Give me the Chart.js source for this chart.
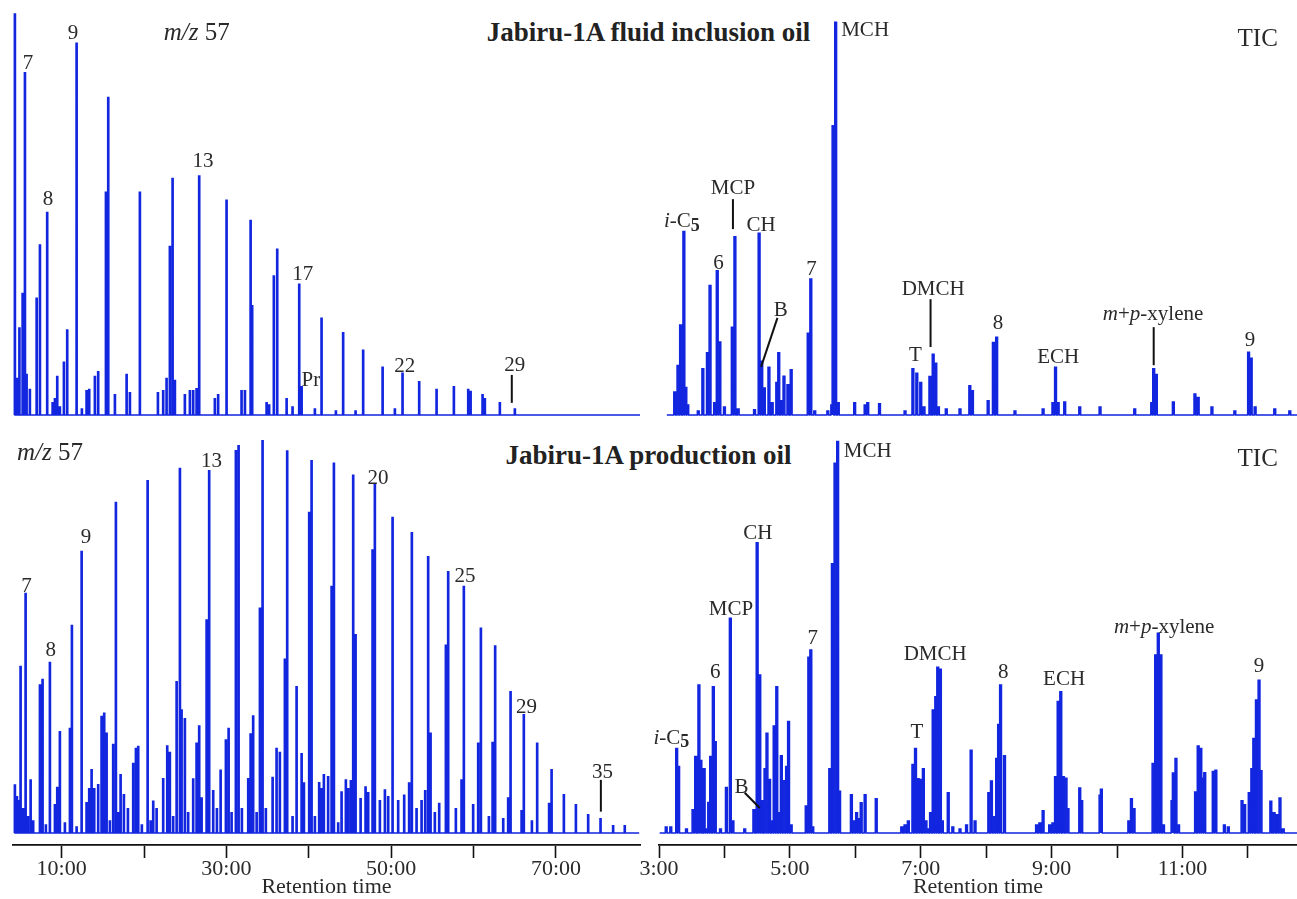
<!DOCTYPE html>
<html>
<head>
<meta charset="utf-8">
<script src="https://cdn.jsdelivr.net/npm/chart.js@4"></script>
<style>
  html, body { margin: 0; padding: 0; background: #fff; width: 1297px; height: 899px; overflow: hidden; }
  canvas { position: absolute; }
  .title { position: absolute; left: 0; width: 1297px; text-align: center; font: bold 27px "Liberation Serif", serif; line-height: 30px; color: #222; }
</style>
</head>
<body>
<div class="title" style="top:17px">Jabiru-1A fluid inclusion oil</div>
<div class="title" style="top:440px">Jabiru-1A production oil</div>
<canvas id="tl" width="687" height="425" style="left:-17px;top:0"></canvas>
<canvas id="tr" width="698" height="425" style="left:629px;top:0"></canvas>
<canvas id="bl" width="687" height="479" style="left:-17px;top:420px"></canvas>
<canvas id="br" width="698" height="479" style="left:629px;top:420px"></canvas>
<script>
// retention time (min) and relative intensity of each peak
const tlTimes = [4.33, 4.58, 4.88, 5.27, 5.55, 5.75, 6.15, 6.97, 7.37, 8.25, 8.91, 9.19, 9.47, 9.79, 10.28, 10.68, 11.82, 12.46, 13.03, 13.35, 14.04, 14.44, 15.38, 15.66, 16.47, 17.89, 18.29, 19.5, 21.69, 22.33, 22.74, 23.14, 23.47, 23.75, 24.96, 25.57, 25.97, 26.38, 26.7, 28.6, 29.0, 30.02, 31.84, 32.25, 32.94, 33.13, 34.88, 35.19, 35.76, 36.17, 37.31, 38.03, 38.84, 39.13, 40.74, 41.55, 43.29, 44.17, 45.68, 46.6, 48.96, 50.45, 51.38, 53.4, 55.51, 57.61, 59.35, 59.64, 61.09, 61.37, 63.19, 65.01];
const tlHeights = [99, 9, 21.5, 30, 84.5, 10, 6.3, 28.8, 42, 50, 3, 4, 9.5, 2, 13, 21, 91.8, 1.5, 6, 6.3, 9.5, 10.7, 55, 78.4, 5, 10, 5.5, 55, 5.5, 6, 9, 41.6, 58.4, 8.5, 5, 6, 6, 6.5, 59, 4, 5, 53, 6, 6, 48, 27, 3, 2.5, 34.3, 40.9, 4, 2, 32.3, 7, 1.5, 23.9, 1, 20.3, 1, 16, 11.8, 1.5, 10.3, 8.2, 6.3, 7, 6.3, 5.8, 5, 4, 3, 1.5];

const trTimes = [3.24, 3.29, 3.33, 3.38, 3.41, 3.44, 3.6, 3.67, 3.74, 3.78, 3.85, 3.89, 3.93, 4.0, 4.12, 4.16, 4.21, 4.46, 4.53, 4.57, 4.61, 4.68, 4.73, 4.8, 4.83, 4.87, 4.91, 4.97, 5.02, 5.28, 5.32, 5.38, 5.58, 5.64, 5.66, 5.7, 5.74, 5.99, 6.15, 6.19, 6.37, 6.76, 6.88, 6.94, 7.0, 7.05, 7.14, 7.19, 7.23, 7.27, 7.39, 7.6, 7.75, 7.79, 8.03, 8.11, 8.16, 8.44, 8.87, 9.02, 9.06, 9.1, 9.2, 9.43, 9.74, 10.27, 10.53, 10.56, 10.6, 10.86, 11.19, 11.24, 11.45, 11.8, 12.01, 12.05, 12.11, 12.41, 12.64];
const trHeights = [5.7, 12.2, 22.2, 45.3, 6.8, 2.5, 1, 11.4, 15.4, 32, 3, 35.6, 18, 2, 21.7, 44, 1.5, 1.3, 44.9, 13.3, 6.7, 11.8, 3, 8, 15.4, 3.5, 9.6, 7.5, 11.2, 20.2, 33.6, 1, 1, 2.5, 71.4, 97, 3, 3, 2.5, 3, 2.8, 1, 11.4, 10.3, 8, 2, 9.5, 15, 12.8, 2, 1.5, 1.5, 7.2, 6, 3.5, 17.9, 19.2, 1, 1.5, 3, 11.8, 3, 3.2, 2, 2, 1.5, 3, 11.4, 10, 3.2, 5.2, 4.3, 2, 1, 15.5, 14, 2, 1.5, 1];

const blTimes = [4.33, 4.58, 4.82, 5.02, 5.34, 5.63, 5.91, 6.24, 6.55, 7.37, 7.69, 8.09, 8.58, 9.19, 9.47, 9.79, 10.4, 11.01, 11.25, 11.82, 12.43, 13.03, 13.35, 13.64, 13.96, 14.44, 14.85, 15.17, 15.46, 15.86, 16.26, 16.59, 16.87, 17.16, 17.56, 18.05, 18.69, 19.02, 19.3, 19.74, 20.44, 20.8, 21.12, 21.53, 22.33, 22.82, 23.14, 23.54, 23.96, 24.36, 24.56, 24.96, 25.36, 25.97, 26.38, 26.7, 26.99, 27.6, 27.91, 28.4, 28.85, 29.3, 29.94, 30.27, 30.63, 31.15, 31.48, 31.88, 32.65, 32.94, 33.25, 33.67, 34.07, 34.39, 34.79, 35.61, 36.09, 36.49, 37.1, 37.38, 38.03, 38.52, 39.13, 39.41, 40.05, 40.34, 40.74, 41.26, 41.55, 41.83, 42.35, 42.77, 43.05, 43.57, 43.98, 44.5, 44.78, 45.11, 45.39, 45.68, 46.29, 46.89, 47.21, 47.74, 48.02, 48.63, 49.24, 49.64, 50.17, 50.85, 51.58, 52.18, 52.51, 53.08, 53.69, 54.13, 54.49, 54.78, 55.3, 55.83, 56.64, 56.92, 57.85, 58.54, 58.82, 59.95, 60.56, 60.89, 61.86, 62.31, 62.62, 63.6, 64.2, 64.49, 65.83, 66.1, 67.08, 67.72, 69.17, 69.47, 70.96, 72.42, 73.91, 75.41, 76.94, 78.35];
const blHeights = [11.9, 9, 8, 41.4, 6, 59.6, 4, 13.2, 3, 36.8, 38.2, 2, 42.4, 7, 11.3, 25.2, 2.5, 26, 51.6, 1.5, 70, 7.5, 11, 15.7, 11, 12, 29, 29.8, 24.8, 3, 22, 82.2, 5, 14.5, 9.5, 6, 17.3, 21, 21.5, 2, 87.6, 3, 7.9, 6, 13.5, 21.6, 20, 4, 37.6, 90.7, 30.6, 28.4, 5, 13.4, 22.3, 26.6, 8.7, 53, 90.1, 10.5, 6, 15.6, 23.1, 26, 5, 95.1, 96.3, 6, 13.5, 24.6, 29.1, 5, 55.9, 97.6, 6, 13.8, 21, 20, 43.2, 95, 4, 36.4, 19.7, 12.4, 79.7, 92.6, 4, 12.5, 11, 14.5, 14, 61.3, 92, 2.5, 10.2, 13.2, 11, 13, 89, 49.3, 8.5, 11.4, 10, 70.4, 86.6, 8, 10.7, 9, 78.5, 8, 9.4, 12.4, 74.7, 6, 8, 10.5, 68.7, 24.8, 5, 7.3, 46.7, 65, 6, 13.2, 61.3, 7, 22.3, 50.9, 4, 22.5, 46.5, 3.5, 8.7, 35.1, 5.5, 29.4, 3, 22.3, 7.3, 15.7, 9.5, 7, 4.5, 3.5, 1.8, 1.8];

const brTimes = [3.11, 3.18, 3.27, 3.3, 3.42, 3.52, 3.56, 3.61, 3.64, 3.69, 3.72, 3.76, 3.79, 3.83, 3.86, 3.94, 4.03, 4.09, 4.13, 4.31, 4.45, 4.5, 4.54, 4.57, 4.62, 4.65, 4.69, 4.73, 4.76, 4.8, 4.84, 4.87, 4.91, 4.95, 4.98, 5.02, 5.25, 5.29, 5.32, 5.35, 5.61, 5.65, 5.69, 5.73, 5.76, 5.94, 5.98, 6.02, 6.05, 6.09, 6.15, 6.32, 6.71, 6.76, 6.81, 6.88, 6.92, 6.96, 7.0, 7.04, 7.08, 7.11, 7.15, 7.19, 7.23, 7.26, 7.3, 7.33, 7.42, 7.49, 7.6, 7.7, 7.77, 7.83, 8.04, 8.08, 8.12, 8.16, 8.19, 8.22, 8.28, 8.77, 8.82, 8.87, 8.97, 9.02, 9.06, 9.1, 9.14, 9.18, 9.22, 9.25, 9.43, 9.46, 9.74, 9.76, 10.18, 10.22, 10.26, 10.55, 10.59, 10.63, 10.67, 10.71, 10.84, 10.86, 10.9, 10.94, 11.2, 11.24, 11.28, 11.31, 11.34, 11.47, 11.51, 11.64, 11.7, 11.91, 11.95, 12.02, 12.06, 12.09, 12.13, 12.17, 12.2, 12.35, 12.4, 12.45, 12.49, 12.54];
const brHeights = [1.5, 1.5, 21, 16.5, 1, 5.8, 19, 36.8, 18, 16, 1, 7.6, 19, 36.4, 22.7, 1, 11.3, 53.4, 3, 1, 5.8, 72.2, 39.3, 8, 16, 24.8, 13.3, 3, 26.6, 36.4, 5, 19.2, 13, 16.5, 27.7, 2, 6.7, 43.7, 45.5, 1.5, 16, 67, 92, 97.4, 10.4, 9.5, 3, 5, 3.5, 7.5, 9.5, 8.5, 1.5, 2, 3, 17, 21, 13.5, 13.3, 16, 3, 1, 5, 30.6, 33.9, 41.2, 40.7, 3, 10, 1.5, 1, 2, 20.6, 3, 10, 12.9, 4, 18.5, 27, 36.8, 19.2, 2, 2.5, 5.5, 2, 2.5, 14, 32.7, 35.1, 14, 13.6, 6, 11.2, 8, 9.4, 10.9, 3, 8.5, 6, 17.3, 44.3, 49.7, 44.3, 2, 8, 14.9, 18.5, 2, 10.2, 21.6, 21, 13.6, 15, 15.3, 15.6, 2, 1.5, 8, 7, 10, 16, 23.5, 33.1, 38, 15.5, 7.9, 5, 4.5, 8.7, 1];

// axis ticks (min) and their labels
const leftTicks = [10, 20, 30, 40, 50, 60, 70];
const leftTickLabels = ["10:00", "", "30:00", "", "50:00", "", "70:00"];
const rightTicks = [3, 4, 5, 6, 7, 8, 9, 10, 11, 12];
const rightTickLabels = ["3:00", "", "5:00", "", "7:00", "", "9:00", "", "11:00", ""];

// peak labels: text (*italic*, _subscript_), time, intensity level
const tlLabels = ["7", "9", "8", "13", "17", "Pr", "22", "29"];
const tlLabelTimes = [5.91, 11.37, 8.34, 27.15, 39.28, 40.26, 51.66, 65.0];
const tlLabelLevels = [86.9, 94.3, 53.1, 62.7, 34.6, 8.6, 11.9, 12.3];
const trLabels = ["*i*-C_5_", "MCP", "CH", "6", "B", "7", "MCH", "T", "DMCH", "8", "ECH", "*m*+*p*-xylene", "9"];
const trLabelTimes = [3.35, 4.13, 4.56, 3.91, 4.86, 5.33, 6.15, 6.92, 7.19, 8.18, 9.10, 10.55, 12.03];
const trLabelLevels = [47.7, 56, 46.7, 37.5, 25.9, 36, 95, 14.6, 30.9, 22.7, 14.1, 24.7, 18.5];
const blLabels = ["7", "8", "9", "13", "20", "25", "29", "35"];
const blLabelTimes = [5.75, 8.67, 12.95, 28.2, 48.39, 58.95, 66.43, 75.66];
const blLabelLevels = [61.3, 45.5, 73.4, 92.4, 88.3, 63.7, 31.1, 15];
const brLabels = ["*i*-C_5_", "MCP", "6", "CH", "B", "7", "MCH", "T", "DMCH", "8", "ECH", "*m*+*p*-xylene", "9"];
const brLabelTimes = [3.19, 4.10, 3.86, 4.51, 4.26, 5.35, 6.19, 6.94, 7.22, 8.26, 9.19, 10.72, 12.17];
const brLabelLevels = [23.6, 55.7, 39.8, 74.6, 11.4, 48.5, 94.8, 24.9, 44.3, 39.8, 38.1, 51.2, 41.3];

// leader lines [t1, level1, t2, level2]
const tlLeaders = [[64.64, 9.9, 64.64, 3]];
const trLeaders = [[4.13, 53.3, 4.13, 45.9], [4.81, 24, 4.56, 11.9], [7.15, 28.6, 7.15, 16.8], [10.56, 21.7, 10.56, 12.3]];
const blLeaders = [[75.45, 13.2, 75.45, 5.3]];
const brLeaders = [[4.31, 10, 4.54, 6.2]];

const BLUE = "#1226e0";
const INK = "#2a2a2a";
const SERIF = "'Liberation Serif', 'Times New Roman', serif";

// step trace: each peak is a narrow block, overlapping blocks keep the taller one
function trace(times, heights, hw, start, end) {
  const edges = [start, end];
  times.forEach(t => edges.push(t - hw, t + hw));
  const xs = [...new Set(edges)].sort((a, b) => a - b);
  return xs.map(x => {
    let h = 0;
    times.forEach((t, i) => {
      if (x >= t - hw - 1e-9 && x < t + hw - 1e-9) h = Math.max(h, heights[i]);
    });
    return { x, y: h };
  });
}

function drawRich(ctx, str, x, y, size) {
  const parts = [];
  let mode = "n", buf = "";
  for (const ch of str) {
    if (ch === "*" || ch === "_") {
      if (buf) parts.push([mode, buf]);
      buf = "";
      const m = ch === "*" ? "i" : "s";
      mode = mode === m ? "n" : m;
    } else buf += ch;
  }
  if (buf) parts.push([mode, buf]);
  const fontOf = m => m === "i" ? `italic ${size}px ${SERIF}` : m === "s" ? `bold ${Math.round(size * 0.85)}px ${SERIF}` : `${size}px ${SERIF}`;
  let w = 0;
  parts.forEach(p => { ctx.font = fontOf(p[0]); w += ctx.measureText(p[1]).width; });
  let cx = x - w / 2;
  ctx.textAlign = "left";
  ctx.textBaseline = "middle";
  parts.forEach(p => {
    ctx.font = fontOf(p[0]);
    ctx.fillText(p[1], cx, p[0] === "s" ? y + size * 0.22 : y);
    cx += ctx.measureText(p[1]).width;
  });
}

function labelsFor(texts, times, levels, leaders, tag, tagAt) {
  return {
    id: "peakLabels",
    afterDatasetsDraw(chart) {
      const { ctx, scales: { x, y } } = chart;
      ctx.save();
      ctx.strokeStyle = "#111";
      ctx.lineWidth = 2;
      leaders.forEach(([t1, a, t2, b]) => {
        ctx.beginPath();
        ctx.moveTo(x.getPixelForValue(t1), y.getPixelForValue(a));
        ctx.lineTo(x.getPixelForValue(t2), y.getPixelForValue(b));
        ctx.stroke();
      });
      ctx.fillStyle = INK;
      texts.forEach((s, i) => drawRich(ctx, s, x.getPixelForValue(times[i]), y.getPixelForValue(levels[i]), 21));
      drawRich(ctx, tag, x.getPixelForValue(tagAt[0]), y.getPixelForValue(tagAt[1]), 25);
      ctx.restore();
    }
  };
}

function panel(id, o) {
  const xScale = { type: "linear", min: o.min, max: o.max, display: false };
  if (o.ticks) {
    Object.assign(xScale, {
      display: true,
      afterBuildTicks: s => { s.ticks = o.ticks.map(v => ({ value: v })); },
      afterFit: s => { s.height = 54; },
      ticks: {
        autoSkip: false, maxRotation: 0, padding: 0, color: INK,
        font: { family: SERIF, size: 22, lineHeight: 1 },
        callback: v => o.tickLabels[o.ticks.indexOf(v)]
      },
      grid: { drawOnChartArea: false, drawTicks: true, tickLength: 13, tickWidth: 1.6, tickColor: "#111" },
      border: { display: true, color: "#111", width: 1.8 },
      title: { display: true, text: "Retention time", color: INK, font: { family: SERIF, size: 22, lineHeight: 1 }, padding: { top: 0, bottom: 1 } }
    });
  }
  new Chart(document.getElementById(id), {
    type: "line",
    data: {
      datasets: [{
        data: trace(o.times, o.heights, o.hw, o.start, o.end),
        borderColor: BLUE,
        backgroundColor: BLUE,
        borderWidth: 1.5,
        pointRadius: 0,
        stepped: true,
        fill: "origin"
      }]
    },
    options: {
      responsive: false,
      animation: false,
      events: [],
      layout: { padding: { left: 30, right: 30, top: o.padTop, bottom: o.padBottom } },
      plugins: { legend: { display: false }, tooltip: { enabled: false } },
      scales: {
        x: xScale,
        y: { min: o.ymin, max: 100, display: false }
      }
    },
    plugins: [labelsFor(o.labels, o.labelTimes, o.labelLevels, o.leaders, o.tag, o.tagAt)]
  });
}

panel("tl", { times: tlTimes, heights: tlHeights, hw: 0.07, start: 4.25, end: 80.2, min: 4.1, max: 80.2, ymin: -1.23, padTop: 10, padBottom: 5,
  labels: tlLabels, labelTimes: tlLabelTimes, labelLevels: tlLabelLevels, leaders: tlLeaders, tag: "*m/z* 57", tagAt: [26.4, 94.3] });
panel("tr", { times: trTimes, heights: trHeights, hw: 0.014, start: 3.12, end: 12.8, min: 3, max: 12.75, ymin: -1.23, padTop: 10, padBottom: 5,
  labels: trLabels, labelTimes: trLabelTimes, labelLevels: trLabelLevels, leaders: trLeaders, tag: "TIC", tagAt: [12.15, 92.8] });
panel("bl", { times: blTimes, heights: blHeights, hw: 0.07, start: 4.25, end: 80.1, min: 4.1, max: 80.2, ymin: -3, padTop: 11, padBottom: 0,
  ticks: leftTicks, tickLabels: leftTickLabels,
  labels: blLabels, labelTimes: blLabelTimes, labelLevels: blLabelLevels, leaders: blLeaders, tag: "*m/z* 57", tagAt: [8.58, 94.5] });
panel("br", { times: brTimes, heights: brHeights, hw: 0.014, start: 3.01, end: 12.8, min: 3, max: 12.75, ymin: -3, padTop: 11, padBottom: 0,
  ticks: rightTicks, tickLabels: rightTickLabels,
  labels: brLabels, labelTimes: brLabelTimes, labelLevels: brLabelLevels, leaders: brLeaders, tag: "TIC", tagAt: [12.15, 93] });
</script>
</body>
</html>
